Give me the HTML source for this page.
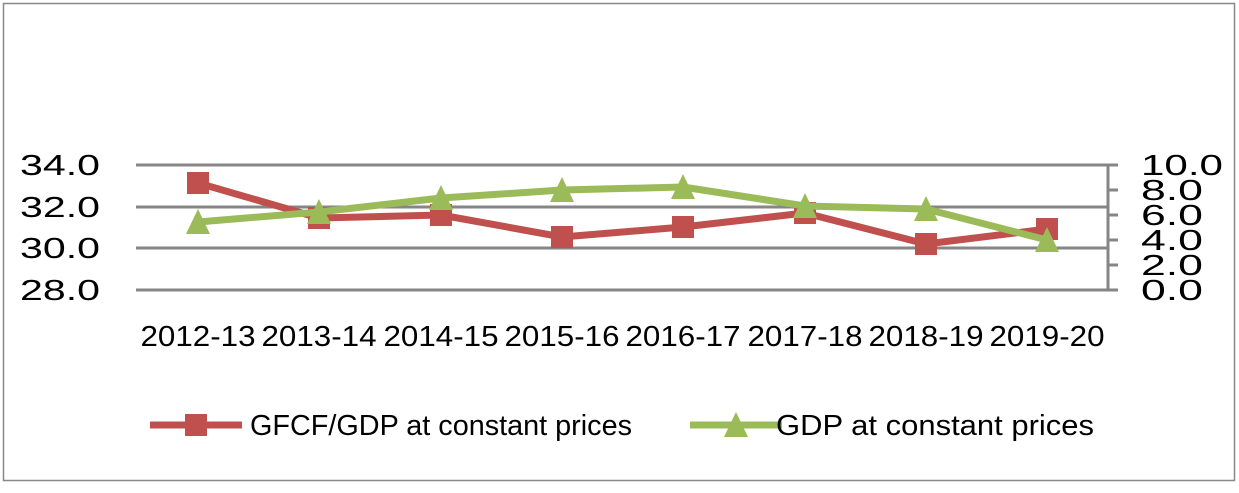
<!DOCTYPE html>
<html><head><style>body{margin:0;background:#fff}</style></head><body>
<svg width="1239" height="488" xmlns="http://www.w3.org/2000/svg" font-family="Liberation Sans, sans-serif" fill="#000">
<rect x="3.5" y="3.5" width="1231" height="477" fill="#fff" stroke="#888" stroke-width="1.5"/>
<g stroke="#868686" stroke-width="3">
<line x1="136" y1="165" x2="1108" y2="165"/>
<line x1="136" y1="207" x2="1108" y2="207"/>
<line x1="136" y1="248" x2="1108" y2="248"/>
<line x1="136" y1="290" x2="1108" y2="290"/>
<line x1="1108" y1="164" x2="1108" y2="291"/>
<line x1="1108" y1="165" x2="1118" y2="165"/>
<line x1="1108" y1="190" x2="1118" y2="190"/>
<line x1="1108" y1="215" x2="1118" y2="215"/>
<line x1="1108" y1="240" x2="1118" y2="240"/>
<line x1="1108" y1="265" x2="1118" y2="265"/>
<line x1="1108" y1="290" x2="1118" y2="290"/>
</g>
<g font-size="29">
<text x="20" y="175" textLength="80" lengthAdjust="spacingAndGlyphs">34.0</text>
<text x="20" y="217" textLength="80" lengthAdjust="spacingAndGlyphs">32.0</text>
<text x="20" y="258" textLength="80" lengthAdjust="spacingAndGlyphs">30.0</text>
<text x="20" y="300" textLength="80" lengthAdjust="spacingAndGlyphs">28.0</text>
<text x="1141" y="175" textLength="82" lengthAdjust="spacingAndGlyphs">10.0</text>
<text x="1141" y="200" textLength="62" lengthAdjust="spacingAndGlyphs">8.0</text>
<text x="1141" y="225" textLength="62" lengthAdjust="spacingAndGlyphs">6.0</text>
<text x="1141" y="250" textLength="62" lengthAdjust="spacingAndGlyphs">4.0</text>
<text x="1141" y="275" textLength="62" lengthAdjust="spacingAndGlyphs">2.0</text>
<text x="1141" y="300" textLength="62" lengthAdjust="spacingAndGlyphs">0.0</text>
</g>
<g font-size="29" text-anchor="middle">
<text x="198" y="346" textLength="115" lengthAdjust="spacingAndGlyphs">2012-13</text>
<text x="319" y="346" textLength="115" lengthAdjust="spacingAndGlyphs">2013-14</text>
<text x="441" y="346" textLength="115" lengthAdjust="spacingAndGlyphs">2014-15</text>
<text x="562" y="346" textLength="115" lengthAdjust="spacingAndGlyphs">2015-16</text>
<text x="683" y="346" textLength="115" lengthAdjust="spacingAndGlyphs">2016-17</text>
<text x="805" y="346" textLength="115" lengthAdjust="spacingAndGlyphs">2017-18</text>
<text x="926" y="346" textLength="115" lengthAdjust="spacingAndGlyphs">2018-19</text>
<text x="1047" y="346" textLength="115" lengthAdjust="spacingAndGlyphs">2019-20</text>
</g>
<polyline fill="none" stroke="#c0504d" stroke-width="7" stroke-linejoin="round" points="198,183 319,218 441,215 562,237 683,227 805,213 926,244 1047,229"/>
<g fill="#c0504d">
<rect x="187" y="172" width="22" height="22"/><rect x="308" y="207" width="22" height="22"/><rect x="430" y="204" width="22" height="22"/><rect x="551" y="226" width="22" height="22"/><rect x="672" y="216" width="22" height="22"/><rect x="794" y="202" width="22" height="22"/><rect x="915" y="233" width="22" height="22"/><rect x="1036" y="218" width="22" height="22"/>
</g>
<polyline fill="none" stroke="#9bbb59" stroke-width="7" stroke-linejoin="round" points="198,222 319,212 441,198 562,190 683,187 805,206 926,209 1047,240"/>
<g fill="#9bbb59">
<polygon points="198,209 186,234 210,234"/><polygon points="319,199 307,224 331,224"/><polygon points="441,185 429,210 453,210"/><polygon points="562,177 550,202 574,202"/><polygon points="683,174 671,199 695,199"/><polygon points="805,193 793,218 817,218"/><polygon points="926,196 914,221 938,221"/><polygon points="1047,227 1035,252 1059,252"/>
</g>
<line x1="150" y1="425" x2="242" y2="425" stroke="#c0504d" stroke-width="7"/>
<rect x="185" y="414" width="22" height="22" fill="#c0504d"/>
<text x="250" y="435" font-size="29" textLength="382" lengthAdjust="spacingAndGlyphs">GFCF/GDP at constant prices</text>
<line x1="690" y1="425" x2="782" y2="425" stroke="#9bbb59" stroke-width="7"/>
<polygon points="736,412 724,437 748,437" fill="#9bbb59"/>
<text x="776" y="435" font-size="29" textLength="318" lengthAdjust="spacingAndGlyphs">GDP at constant prices</text>
</svg>
</body></html>
